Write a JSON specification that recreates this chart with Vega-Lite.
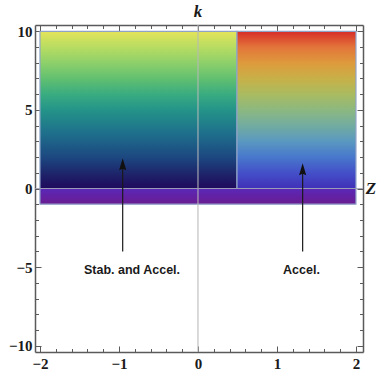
{
  "$schema": "https://vega.github.io/schema/vega-lite/v6.json",
  "autosize": "none",
  "width": 328,
  "height": 327,
  "padding": {"left": 35, "top": 25, "right": 19, "bottom": 25},
  "background": "white",
  "config": {
    "view": {"stroke": null},
    "axis": {
      "domainColor": "#5a5a5a",
      "domainWidth": 1.5,
      "tickColor": "#5a5a5a",
      "tickWidth": 1,
      "grid": false,
      "title": null,
      "labelFont": "Liberation Serif",
      "labelFontWeight": "bold",
      "labelFontSize": 15,
      "labelColor": "#1a1a1a"
    }
  },
  "datasets": {
    "regions": [
      {"region": "left", "x": -2, "x2": 0.494, "y": 0, "y2": 10},
      {"region": "right", "x": 0.494, "x2": 2, "y": 0, "y2": 10},
      {"region": "band", "x": -2, "x2": 2, "y": -1, "y2": 0}
    ],
    "arrows": [
      {"label": "Stab. and Accel.", "x": -0.953, "y": -4.0, "y2": 1.3, "tipy": 1.92, "tx": -0.835, "ty": -5.2},
      {"label": "Accel.", "x": 1.325, "y": -4.0, "y2": 1.0, "tipy": 1.6, "tx": 1.31, "ty": -5.2}
    ],
    "axislabels": [
      {"t": "k", "x": 0, "y": 11.25},
      {"t": "Z", "x": 2.19, "y": 0}
    ]
  },
  "resolve": {"axis": {"x": "independent", "y": "independent"}},
  "layer": [
    {
      "data": {"name": "regions"},
      "transform": [{"filter": "datum.region === 'left'"}],
      "mark": {
        "type": "rect",
        "stroke": "#8fa3c8",
        "strokeWidth": 1.2,
        "fill": {
          "gradient": "linear", "x1": 0, "y1": 1, "x2": 0, "y2": 0,
          "stops": [
            {"offset": 0, "color": "#200a5c"},
            {"offset": 0.08, "color": "#1e2068"},
            {"offset": 0.2, "color": "#1c4880"},
            {"offset": 0.35, "color": "#1e6f8c"},
            {"offset": 0.5, "color": "#249488"},
            {"offset": 0.6, "color": "#3aac80"},
            {"offset": 0.7, "color": "#62c070"},
            {"offset": 0.8, "color": "#8ed06a"},
            {"offset": 0.9, "color": "#b8dc62"},
            {"offset": 1, "color": "#e4e45a"}
          ]
        }
      },
      "encoding": {
        "x": {
          "field": "x", "type": "quantitative",
          "scale": {"domain": [-2.063, 2.089], "nice": false, "zero": false},
          "axis": {
            "orient": "bottom",
            "values": [-2, -1.8, -1.6, -1.4, -1.2, -1, -0.8, -0.6, -0.4, -0.2, 0, 0.2, 0.4, 0.6, 0.8, 1, 1.2, 1.4, 1.6, 1.8, 2],
            "labelExpr": "datum.value % 1 === 0 ? (datum.value < 0 ? '\u2212' + abs(datum.value) : '' + datum.value) : ''",
            "tickSize": {"condition": {"test": "datum.value % 1 === 0", "value": -6}, "value": -3.5},
            "labelFont": "Liberation Serif",
            "labelFontWeight": "bold",
            "labelFontSize": 15,
            "labelPadding": 10
          }
        },
        "x2": {"field": "x2"},
        "y": {
          "field": "y", "type": "quantitative",
          "scale": {"domain": [-10.4, 10.4], "nice": false, "zero": false},
          "axis": {
            "orient": "left",
            "values": [-10, -9, -8, -7, -6, -5, -4, -3, -2, -1, 0, 1, 2, 3, 4, 5, 6, 7, 8, 9, 10],
            "labelExpr": "datum.value % 5 === 0 ? (datum.value < 0 ? '\u2212' + abs(datum.value) : '' + datum.value) : ''",
            "tickSize": {"condition": {"test": "datum.value % 5 === 0", "value": -6}, "value": -3.5},
            "labelFont": "Liberation Serif",
            "labelFontWeight": "bold",
            "labelFontSize": 15,
            "labelPadding": 9
          }
        },
        "y2": {"field": "y2"}
      }
    },
    {
      "data": {"name": "regions"},
      "transform": [{"filter": "datum.region === 'right'"}],
      "mark": {
        "type": "rect",
        "stroke": "#8fa3c8",
        "strokeWidth": 1.2,
        "fill": {
          "gradient": "linear", "x1": 0, "y1": 1, "x2": 0, "y2": 0,
          "stops": [
            {"offset": 0, "color": "#4030b8"},
            {"offset": 0.1, "color": "#4450c8"},
            {"offset": 0.2, "color": "#4878cc"},
            {"offset": 0.3, "color": "#5a98c0"},
            {"offset": 0.4, "color": "#72aca0"},
            {"offset": 0.5, "color": "#8cb880"},
            {"offset": 0.6, "color": "#aabb60"},
            {"offset": 0.7, "color": "#c8b048"},
            {"offset": 0.8, "color": "#de9a3c"},
            {"offset": 0.9, "color": "#e2743a"},
            {"offset": 1, "color": "#d82c28"}
          ]
        }
      },
      "encoding": {
        "x": {
          "field": "x", "type": "quantitative",
          "scale": {"domain": [-2.063, 2.089], "nice": false, "zero": false},
          "axis": {
            "orient": "top",
            "values": [-2, -1.8, -1.6, -1.4, -1.2, -1, -0.8, -0.6, -0.4, -0.2, 0, 0.2, 0.4, 0.6, 0.8, 1, 1.2, 1.4, 1.6, 1.8, 2],
            "labels": false,
            "tickSize": {"condition": {"test": "datum.value % 1 === 0", "value": -6}, "value": -3.5}
          }
        },
        "x2": {"field": "x2"},
        "y": {
          "field": "y", "type": "quantitative",
          "scale": {"domain": [-10.4, 10.4], "nice": false, "zero": false},
          "axis": {
            "orient": "right",
            "values": [-10, -9, -8, -7, -6, -5, -4, -3, -2, -1, 0, 1, 2, 3, 4, 5, 6, 7, 8, 9, 10],
            "labels": false,
            "tickSize": {"condition": {"test": "datum.value % 5 === 0", "value": -6}, "value": -3.5}
          }
        },
        "y2": {"field": "y2"}
      }
    },
    {
      "data": {"name": "regions"},
      "transform": [{"filter": "datum.region === 'band'"}],
      "mark": {
        "type": "rect",
        "stroke": "#8fa3c8",
        "strokeWidth": 1.2,
        "fill": {
          "gradient": "linear", "x1": 0, "y1": 1, "x2": 0, "y2": 0,
          "stops": [
            {"offset": 0, "color": "#6a1c90"},
            {"offset": 1, "color": "#5a28b8"}
          ]
        }
      },
      "encoding": {
        "x": {"field": "x", "type": "quantitative", "axis": null},
        "x2": {"field": "x2"},
        "y": {"field": "y", "type": "quantitative", "axis": null},
        "y2": {"field": "y2"}
      }
    },
    {
      "data": {"values": [{"x": 0}]},
      "mark": {"type": "rule", "color": "#b8b8b8", "strokeWidth": 1.3, "opacity": 0.8},
      "encoding": {"x": {"field": "x", "type": "quantitative", "axis": null}}
    },
    {
      "data": {"values": [{"y": 0}]},
      "mark": {"type": "rule", "color": "#9a9ab0", "strokeWidth": 1.2, "opacity": 0.8},
      "encoding": {"y": {"field": "y", "type": "quantitative", "axis": null}}
    },
    {
      "data": {"name": "arrows"},
      "mark": {"type": "rule", "color": "#1a1a1a", "strokeWidth": 1.2},
      "encoding": {
        "x": {"field": "x", "type": "quantitative", "axis": null},
        "y": {"field": "y", "type": "quantitative", "axis": null},
        "y2": {"field": "y2"}
      }
    },
    {
      "data": {"name": "arrows"},
      "mark": {"type": "point", "shape": "M0,-1L-0.6,1L0,0.75L0.6,1Z", "size": 144, "filled": true, "color": "#111111", "opacity": 1, "yOffset": 6},
      "encoding": {
        "x": {"field": "x", "type": "quantitative", "axis": null},
        "y": {"field": "tipy", "type": "quantitative", "axis": null}
      }
    },
    {
      "data": {"name": "arrows"},
      "mark": {"type": "text", "font": "Liberation Sans", "fontWeight": "bold", "fontSize": 12.5, "color": "#1a1a1a", "align": "center", "baseline": "middle"},
      "encoding": {
        "x": {"field": "tx", "type": "quantitative", "axis": null},
        "y": {"field": "ty", "type": "quantitative", "axis": null},
        "text": {"field": "label"}
      }
    },
    {
      "data": {"name": "axislabels"},
      "mark": {"type": "text", "font": "Liberation Serif", "fontWeight": "bold", "fontStyle": "italic", "fontSize": 17, "color": "#1a1a1a", "align": "center", "baseline": "middle"},
      "encoding": {
        "x": {"field": "x", "type": "quantitative", "axis": null},
        "y": {"field": "y", "type": "quantitative", "axis": null},
        "text": {"field": "t"}
      }
    }
  ]
}
